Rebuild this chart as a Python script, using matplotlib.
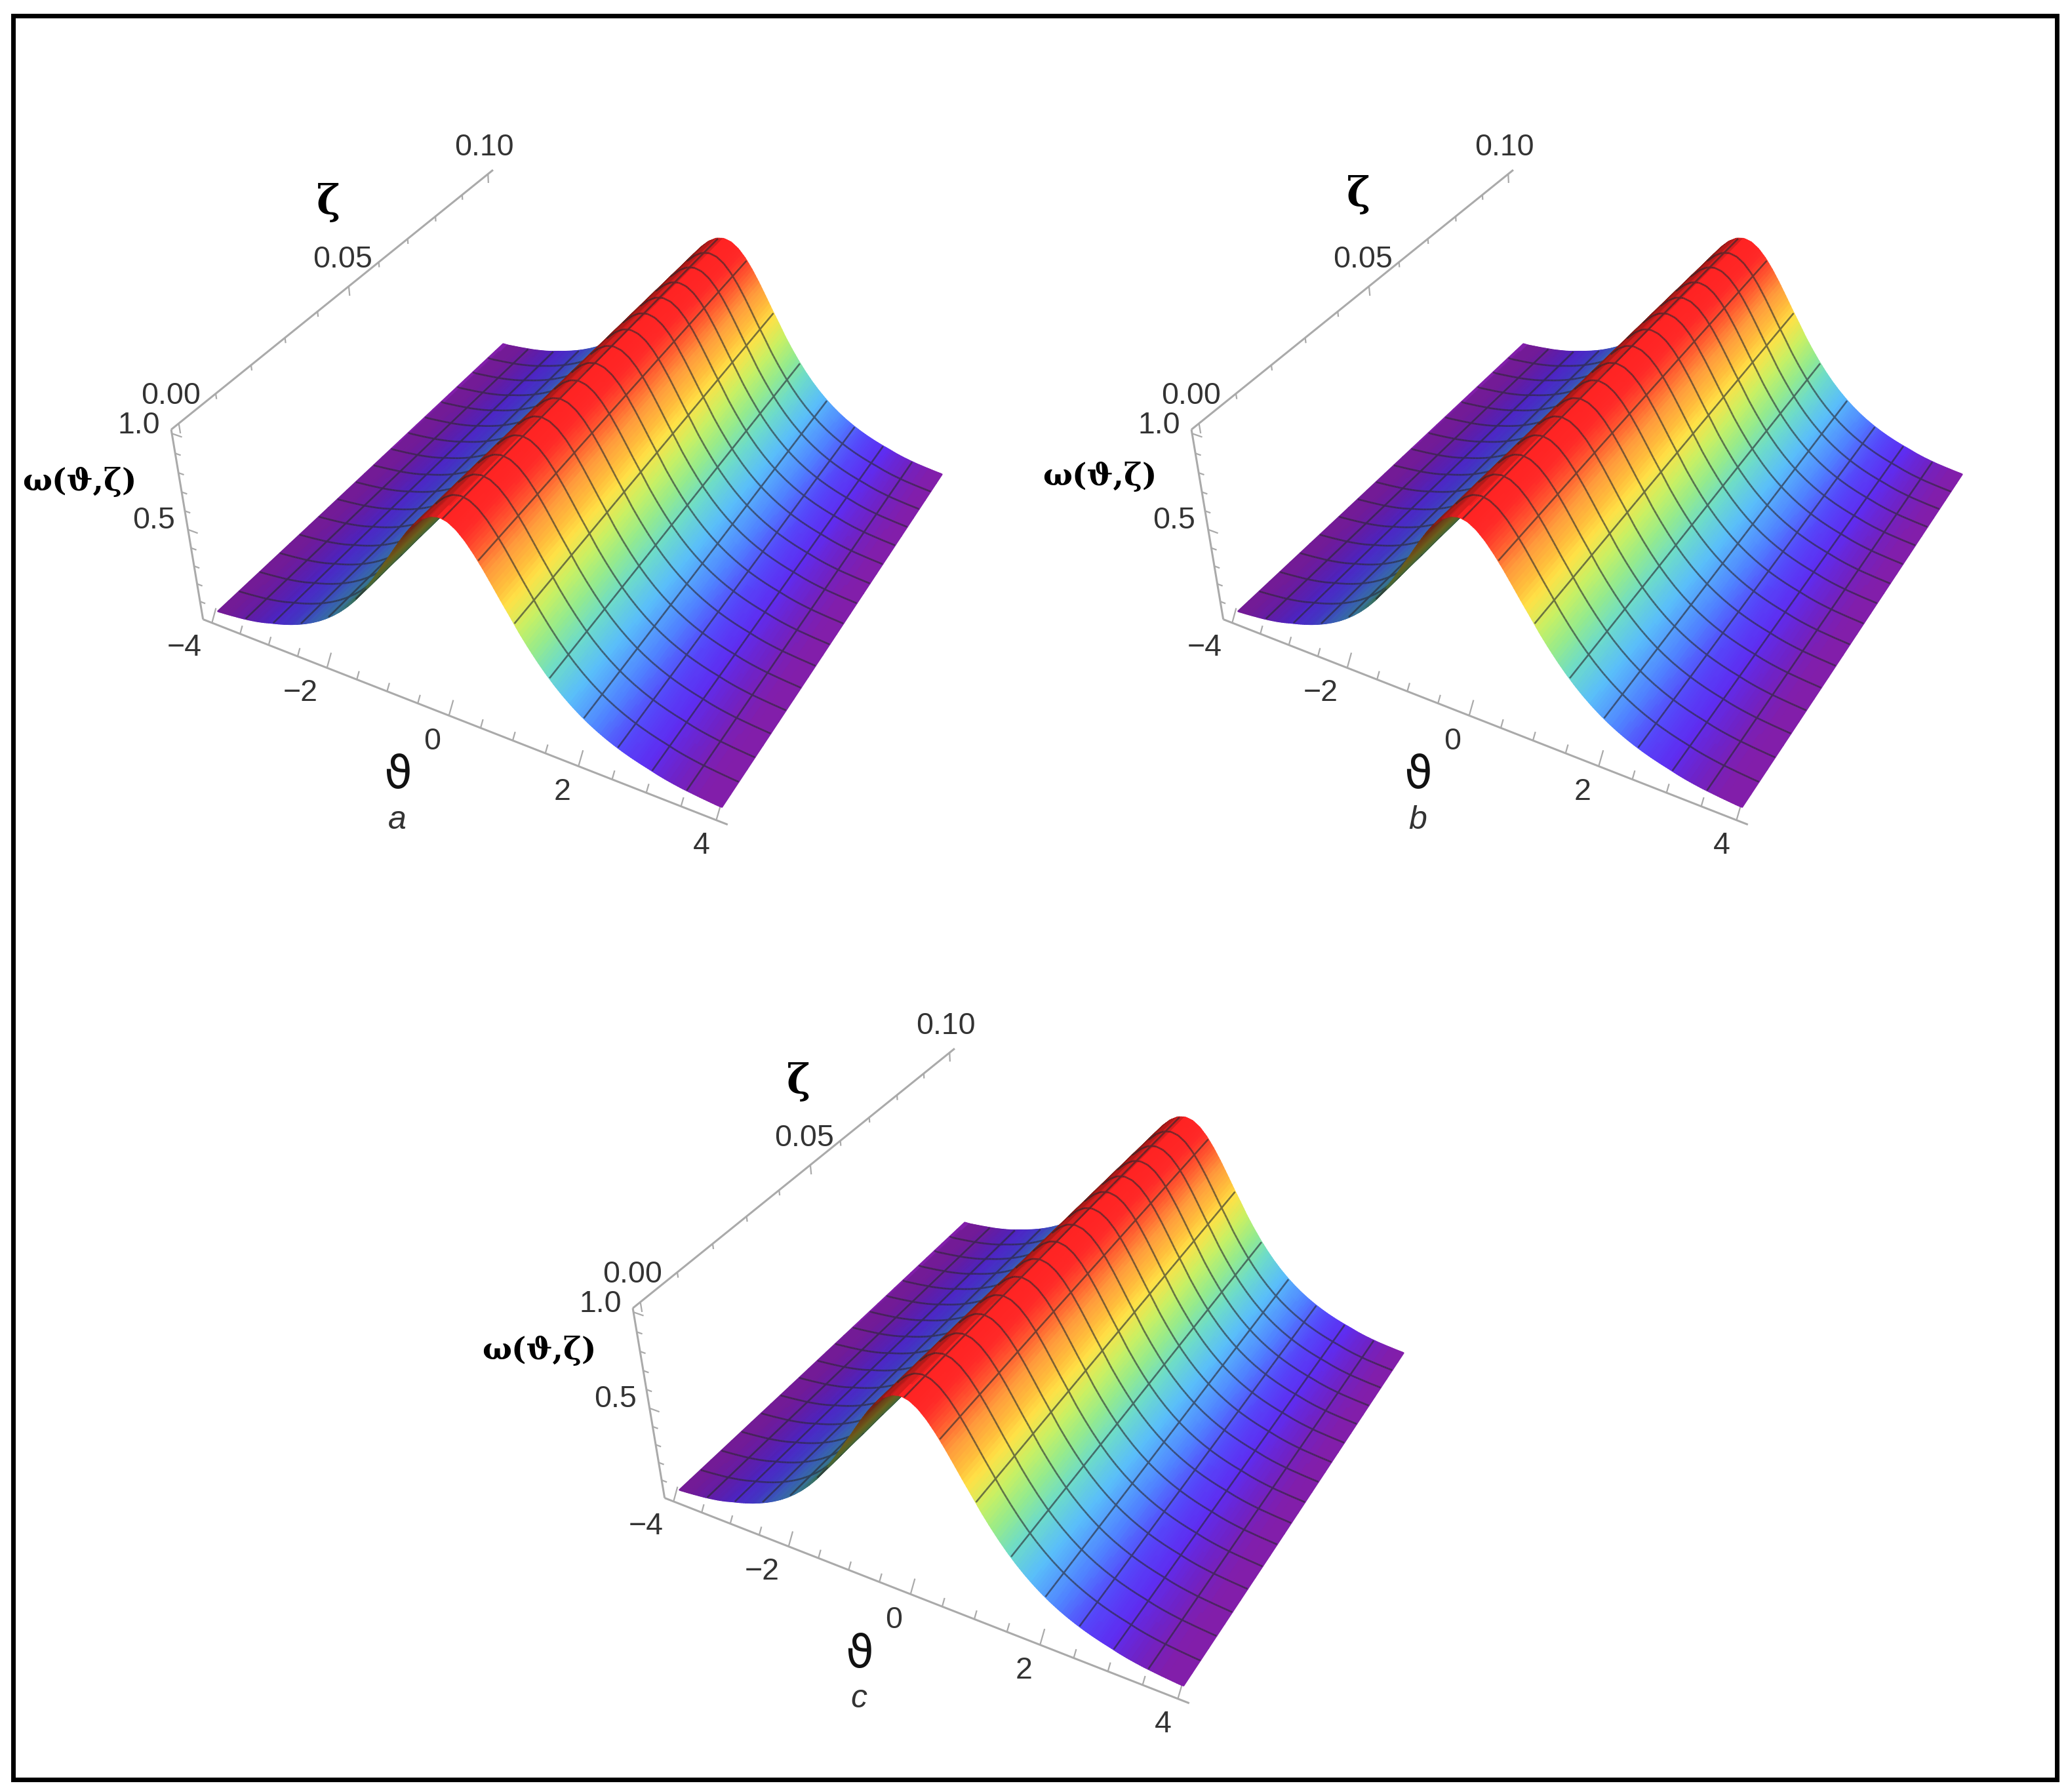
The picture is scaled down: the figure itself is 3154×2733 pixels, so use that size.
import numpy as np
import matplotlib
matplotlib.use('Agg')
import matplotlib.pyplot as plt
from matplotlib.colors import LinearSegmentedColormap
from matplotlib.patches import Rectangle
from mpl_toolkits.mplot3d.art3d import Poly3DCollection

W_PX, H_PX = 3154, 2733

# Profile of the surface
theta_table = [-4.0,-3.875,-3.75,-3.625,-3.5,-3.375,-3.25,-3.125,-3.0,-2.875,-2.75,-2.625,-2.5,-2.375,-2.25,-2.125,-2.0,-1.875,-1.75,-1.625,-1.5,-1.375,-1.25,-1.125,-1.0,-.875,-.75,-.625,-.5,-.375,-.25,-.125,0.0,
               .125,.25,.375,.5,.625,.75,.875,1.0,1.125,1.25,1.375,1.5,1.625,1.75,1.875,2.0,2.125,2.25,2.375,2.5,2.625,2.75,2.875,3.0,3.125,3.25,3.375,3.5,3.625,3.75,3.875,4.0]
omega_table = [.025,.029,.033,.038,.043,.05,.058,.068,.0806,.0921,.1052,.1201,.1372,.1566,.1786,.2036,.2321,.2643,.3004,.3409,.3862,.4364,.4912,.5502,.6161,.6797,.7464,.8118,.8719,.9245,.9652,.9911,1.0,
               .9911,.9652,.9245,.8719,.8118,.7464,.6797,.6161,.5502,.4912,.4364,.3862,.3409,.3004,.2643,.2321,.2036,.1786,.1566,.1372,.1201,.1052,.0921,.0806,.068,.058,.05,.043,.038,.033,.029,.025]
zeta_range = (0.0, 0.1)
crest_theta = (-0.05, 0.10)   # position of the ridge at the two ends of zeta

theta_major = [-4, -2, 0, 2, 4]
theta_labels = ['\u22124', '\u22122', '0', '2', '4']
theta_minor = [-3.5,-3,-2.5,-1.5,-1,-.5,.5,1,1.5,2.5,3,3.5]
zeta_major = [0.0, 0.05, 0.10]
zeta_labels = ['0.00', '0.05', '0.10']
zeta_minor = [.01,.02,.03,.04,.06,.07,.08,.09]
omega_major = [0.5, 1.0]
omega_labels = ['0.5', '1.0']
omega_minor = [.1,.2,.3,.4,.6,.7,.8,.9]
panel_names = ['a', 'b', 'c']

color_levels = [0,.03,.05,.08,.12,.18,.28,.38,.47,.56,.66,.72,.8,.88,.95,1.0]
color_stops = ['#821eaa','#821eaa','#6e23c8','#5f2df0','#5546fa','#5082ff','#5abefa','#6edcc8','#96eb8c','#c8f064','#ffe146','#ffbe3c','#ff9a3c','#ff5a30','#ff2a28','#ff2323']
cmap = LinearSegmentedColormap.from_list('rb', list(zip(color_levels, color_stops)))

tb = (-4.16, 4.16); zb = (-.002, .102); wb = (-.003, 1.02)
AX_GREY = '#aaaaaa'
TXT = '#333333'
plt.rcParams['font.family'] = ['Liberation Sans', 'DejaVu Sans']

fig = plt.figure(figsize=(W_PX/100, H_PX/100), dpi=100)

def build_surface(ax):
    th = np.linspace(-4, 4, 257)
    ze = np.linspace(zeta_range[0], zeta_range[1], 33)
    shift = np.linspace(crest_theta[0], crest_theta[1], len(ze))
    om = np.array([np.interp(th - sh, theta_table, omega_table) for sh in shift])
    M = ax.get_proj()
    eye = np.asarray(ax._get_camera_loc())
    # project every node once, to tell the facets facing the camera
    X, Z = np.meshgrid(th, ze)
    h = M @ np.stack([X.ravel(), Z.ravel(), om.ravel(), np.ones(X.size)])
    px = (h[0]/h[3]).reshape(X.shape); py = (h[1]/h[3]).reshape(X.shape)
    ax1, ay1 = px[:-1,1:]-px[:-1,:-1], py[:-1,1:]-py[:-1,:-1]
    bx1, by1 = px[1:,1:]-px[:-1,:-1], py[1:,1:]-py[:-1,:-1]
    front = ax1*by1 - ay1*bx1 > 0
    mid_om = (om[:-1,:-1] + om[:-1,1:] + om[1:,:-1] + om[1:,1:]) / 4
    mid_sl = (om[:-1,1:] - om[:-1,:-1]) / np.diff(th)
    shade = np.where(mid_sl > 0, np.clip(.92 - 1.1*mid_sl, .42, 1), 1.0)
    rgb = cmap(np.clip(mid_om, 0, 1))[..., :3] * shade[..., None]
    verts, cols = [], []
    for j in range(len(ze)-1):
        for i in range(len(th)-1):
            verts.append([(th[i],ze[j],om[j,i]),(th[i+1],ze[j],om[j,i+1]),(th[i+1],ze[j+1],om[j+1,i+1]),(th[i],ze[j+1],om[j+1,i])])
            cols.append(np.r_[rgb[j,i], 1])
    bias = .012
    dark = np.array([.16,.16,.18])
    def seg(p, q, c):
        p = np.array(p); q = np.array(q)
        p = p + bias*(eye-p); q = q + bias*(eye-q)
        verts.append([p, q, q, p])
        cols.append(np.r_[c*.38 + dark*.62, 1])
    for k in range(16, len(th)-1, 16):
        for j in range(len(ze)-1):
            if front[j,k] or front[j,k-1]:
                seg((th[k],ze[j],om[j,k]), (th[k],ze[j+1],om[j+1,k]), rgb[j,k])
    for j in range(2, len(ze)-1, 2):
        for i in range(len(th)-1):
            if front[j,i]:
                seg((th[i],ze[j],om[j,i]), (th[i+1],ze[j],om[j,i+1]), rgb[j,i])
    cols = np.array(cols)
    poly = Poly3DCollection(np.array(verts), facecolors=cols, edgecolors=cols, linewidths=1.9, zorder=3, clip_on=False)
    ax.add_collection3d(poly, autolim=False)

def build_axes(ax):
    kw = dict(color=AX_GREY, clip_on=False, zorder=1, solid_capstyle='butt')
    ax.plot([tb[0],tb[1]],[zb[0],zb[0]],[wb[0],wb[0]], lw=2.2, **kw)
    ax.plot([tb[0],tb[0]],[zb[0],zb[1]],[wb[1],wb[1]], lw=2.2, **kw)
    ax.plot([tb[0],tb[0]],[zb[0],zb[0]],[wb[0],wb[1]], lw=2.2, **kw)
    for vals, L in ((theta_major, 1.0), (theta_minor, .55)):
        for t in vals:
            ax.plot([t,t],[zb[0],zb[0]+.0016*L],[wb[0],wb[0]+.055*L], lw=1.6, **kw)
    for vals, L in ((zeta_major, 1.0), (zeta_minor, .55)):
        for z in vals:
            ax.plot([tb[0],tb[0]],[z,z],[wb[1],wb[1]-.05*L], lw=1.6, **kw)
    for vals, L in ((omega_major, 1.0), (omega_minor, .55)):
        for w in vals:
            ax.plot([tb[0],tb[0]+.17*L],[zb[0],zb[0]],[w,w], lw=1.6, **kw)

def pt(dx, dy, x, y):
    return (x+dx)/W_PX, 1-(y+dy)/H_PX

offsets = [(0,0),(1556,0),(704,1340)]
label_shift_zeta = [(0,5),(15,-7),(13,6)]
label_shift_omega = [(0,2),(0,-6),(-3,-13)]
cx, cy, s = 891.1, 711.2, 1245.9

for name, (dx,dy), zs, os_ in zip(panel_names, offsets, label_shift_zeta, label_shift_omega):
    ax = fig.add_axes([(cx+dx-s/2)/W_PX, 1-(cy+dy+s/2)/H_PX, s/W_PX, s/H_PX], projection='3d', computed_zorder=False)
    ax.set_xlim(*tb); ax.set_ylim(*zb); ax.set_zlim(*wb)
    ax.view_init(36.27, -61.21, 0.38)
    ax.set_proj_type('persp', focal_length=.4328)
    ax.set_box_aspect((1.0, .9986, .4022))
    ax.set_axis_off()
    ax.patch.set_visible(False)
    build_axes(ax)
    ax.set_xlim(*tb); ax.set_ylim(*zb); ax.set_zlim(*wb)
    build_surface(ax)
    tk = dict(ha='center', va='center', fontsize=33.5, color=TXT)
    for lab, (x,y) in zip(zeta_labels, [(261,604),(523,396),(738,225)]):
        fig.text(*pt(dx,dy,x,y), lab, **tk)
    for lab, (x,y) in zip(omega_labels, [(235,794),(212,649)]):
        fig.text(*pt(dx,dy,x,y), lab, **tk)
    for lab, (x,y) in zip(theta_labels, [(281,988),(458,1057),(659,1131),(858,1208),(1070,1290)]):
        fig.text(*pt(dx,dy,x,y), lab, **tk)
    fig.text(*pt(dx+zs[0],dy+zs[1],501,304), '\u03b6', ha='center', va='center', fontsize=44, fontweight='bold', family='DejaVu Serif', color='black')
    fig.text(*pt(dx+os_[0],dy+os_[1],121,733), '\u03c9(\u03d1,\u03b6)', ha='center', va='center', fontsize=34, fontweight='bold', family='DejaVu Serif', color='black')
    fig.text(*pt(dx,dy,607,1183), '\u03d1', ha='center', va='center', fontsize=50, family='DejaVu Sans', color='#111111')
    fig.text(*pt(dx,dy,606,1251), name, ha='center', va='center', fontsize=36, style='italic', color=TXT)

fig.add_artist(Rectangle((19.5/W_PX, 1-2714/H_PX), (3137-19.5)/W_PX, (2714-24)/H_PX, transform=fig.transFigure, fill=False, edgecolor='black', linewidth=5))
fig.savefig('out.png', dpi=100)
